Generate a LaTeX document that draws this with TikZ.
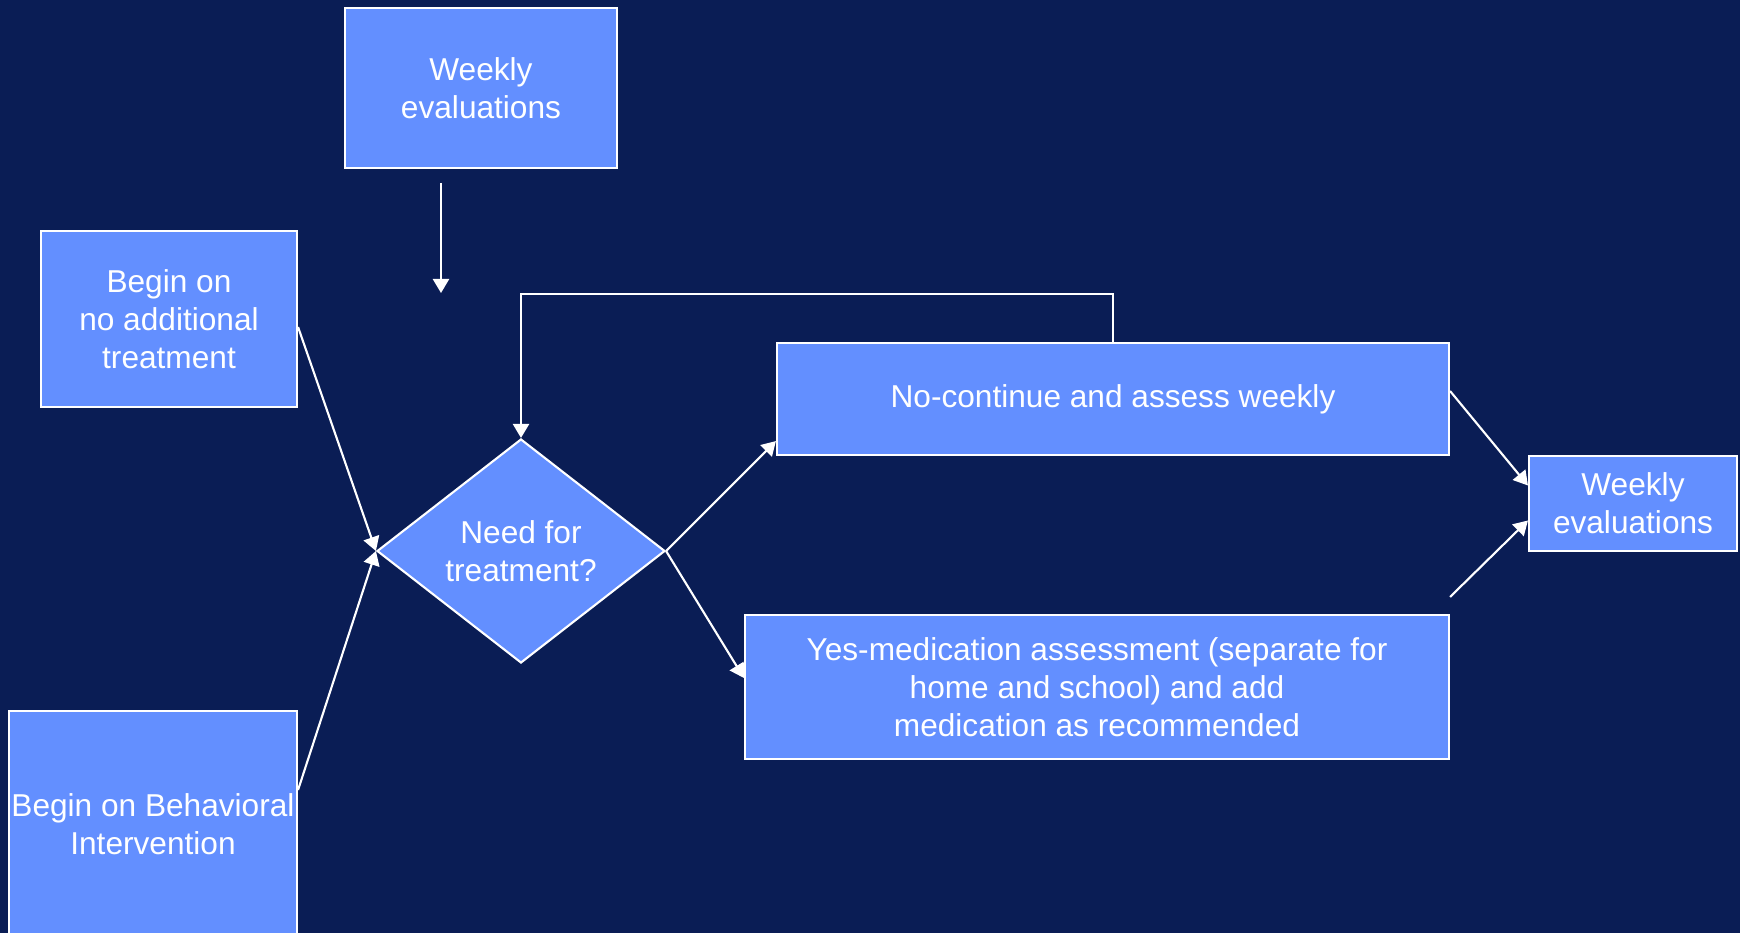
\documentclass[tikz,border=0pt]{standalone}
\usepackage{fontspec}
\setmainfont{Liberation Sans}
\definecolor{navybg}{RGB}{10, 29, 85}
\definecolor{boxblue}{RGB}{99, 143, 255}
\usepackage{tikz}
\usetikzlibrary{shapes, arrows.meta, positioning, calc}

\begin{document}
\begin{tikzpicture}[
    box/.style={draw=white, line width=0.6pt, fill=boxblue, text=white,
                align=center, inner sep=0pt,
                font=\fontsize{9}{10.8}\selectfont},
    decide/.style={box, diamond, aspect=1.286},
    arr/.style={-{Triangle[length=4pt, width=4.6pt]}, line width=0.6pt, white}
  ]
    \fill[navybg] (0,0) rectangle (17.4,-9.33);
    \useasboundingbox (0,0) rectangle (17.4,-9.33);

    \node[box, minimum width=2.72cm, minimum height=1.6cm] (topweek) at (4.81,-0.88)
      {Weekly\\evaluations};
    \node[box, minimum width=2.56cm, minimum height=1.76cm] (begnone) at (1.69,-3.19)
      {Begin on\\no additional\\treatment};
    \node[box, minimum width=2.88cm, minimum height=2.26cm] (begbeh) at (1.53,-8.24)
      {Begin on Behavioral\\Intervention};
    \node[decide, minimum width=2.88cm, minimum height=2.24cm] (need) at (5.21,-5.51)
      {Need for\\treatment?};
    \node[box, minimum width=6.72cm, minimum height=1.12cm] (nocont) at (11.13,-3.99)
      {No-continue and assess weekly};
    \node[box, minimum width=7.04cm, minimum height=1.44cm] (yes) at (10.97,-6.87)
      {Yes-medication assessment (separate for\\home and school) and add\\medication as recommended};
    \node[box, minimum width=2.08cm, minimum height=0.95cm] (rweek) at (16.33,-5.035)
      {Weekly\\evaluations};

    \coordinate (dropa) at (4.41,-1.83);
    \coordinate (dropb) at (4.41,-2.93);
    \coordinate (yesout) at ([yshift=0.17cm]yes.north east);

    \draw[arr] (dropa) -- (dropb);
    \draw[arr] ([yshift=-0.08cm]begnone.east) -- (need.west);
    \draw[arr] ([yshift=0.34cm]begbeh.east) -- (need.west);
    \draw[arr] (need.east) -- ([yshift=0.15cm]nocont.south west);
    \draw[arr] (need.east) -- ([yshift=0.09cm]yes.west);
    \draw[arr] (nocont.north) -- ++(0,0.48) -| (need.north);
    \draw[arr] ([yshift=0.08cm]nocont.east) -- ([yshift=0.18cm]rweek.west);
    \draw[arr] (yesout) -- ([yshift=-0.17cm]rweek.west);
  \end{tikzpicture}
\end{document}
